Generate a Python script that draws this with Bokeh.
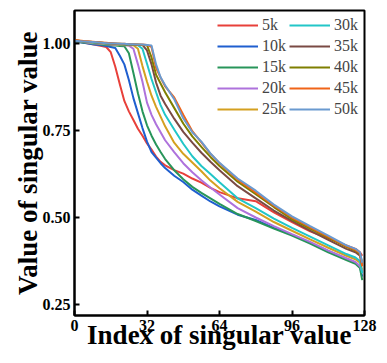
from bokeh.plotting import figure
from bokeh.models import Range1d, FixedTicker, Legend, LegendItem, NumeralTickFormatter
from bokeh.embed import file_html
from bokeh.resources import INLINE

# Index positions at which values were read
idx = [0, 4, 8, 12, 14, 16, 18, 20, 22, 24, 26, 28, 30, 32, 34, 36, 38, 40, 44, 48,
       52, 56, 60, 64, 72, 80, 88, 96, 104, 112, 120, 124, 126, 127]

v5k = [1.008, 1.003, 0.998, 0.993, 0.990, 0.975, 0.933, 0.883, 0.835, 0.805, 0.780, 0.755, 0.735, 0.713, 0.695,
       0.675, 0.660, 0.650, 0.636, 0.626, 0.612, 0.600, 0.585, 0.573, 0.555, 0.547, 0.515, 0.487, 0.460, 0.440,
       0.420, 0.410, 0.400, 0.390]
v10k = [1.006, 1.002, 0.998, 0.995, 0.993, 0.990, 0.987, 0.965, 0.940, 0.895, 0.843, 0.800, 0.757, 0.718, 0.688,
        0.672, 0.656, 0.642, 0.620, 0.602, 0.580, 0.563, 0.546, 0.532, 0.508, 0.493, 0.470, 0.450, 0.428, 0.404,
        0.382, 0.370, 0.360, 0.330]
v15k = [1.006, 1.003, 1.000, 0.997, 0.996, 0.995, 0.994, 0.993, 0.992, 0.972, 0.915, 0.857, 0.805, 0.765, 0.735,
        0.710, 0.688, 0.668, 0.636, 0.610, 0.588, 0.571, 0.555, 0.539, 0.510, 0.490, 0.468, 0.448, 0.425, 0.400,
        0.378, 0.367, 0.355, 0.320]
v20k = [1.007, 1.004, 1.001, 0.999, 0.998, 0.997, 0.996, 0.996, 0.995, 0.994, 0.985, 0.940, 0.890, 0.830, 0.795,
        0.768, 0.745, 0.722, 0.688, 0.656, 0.630, 0.607, 0.586, 0.566, 0.527, 0.500, 0.475, 0.452, 0.430, 0.405,
        0.383, 0.372, 0.360, 0.345]
v25k = [1.008, 1.005, 1.002, 1.000, 0.999, 0.998, 0.997, 0.996, 0.996, 0.995, 0.995, 0.985, 0.935, 0.890, 0.850,
        0.818, 0.790, 0.762, 0.715, 0.683, 0.658, 0.633, 0.606, 0.584, 0.545, 0.517, 0.487, 0.462, 0.437, 0.413,
        0.390, 0.380, 0.370, 0.350]
v30k = [1.008, 1.005, 1.003, 1.001, 1.000, 0.999, 0.998, 0.997, 0.997, 0.996, 0.996, 0.995, 0.985, 0.942, 0.898,
        0.860, 0.823, 0.795, 0.753, 0.712, 0.676, 0.648, 0.625, 0.601, 0.555, 0.527, 0.497, 0.470, 0.445, 0.420,
        0.395, 0.385, 0.375, 0.340]
v35k = [1.009, 1.006, 1.004, 1.002, 1.001, 1.000, 0.999, 0.998, 0.998, 0.997, 0.997, 0.996, 0.996, 0.980, 0.940,
        0.888, 0.850, 0.826, 0.784, 0.746, 0.715, 0.686, 0.660, 0.636, 0.590, 0.555, 0.520, 0.490, 0.462, 0.436,
        0.410, 0.400, 0.390, 0.360]
v40k = [1.009, 1.006, 1.004, 1.002, 1.001, 1.000, 0.999, 0.999, 0.998, 0.998, 0.997, 0.997, 0.996, 0.995, 0.960,
        0.910, 0.885, 0.860, 0.815, 0.770, 0.733, 0.703, 0.674, 0.648, 0.603, 0.567, 0.530, 0.495, 0.468, 0.442,
        0.416, 0.405, 0.395, 0.370]
v45k = [1.010, 1.007, 1.005, 1.003, 1.002, 1.001, 1.000, 0.999, 0.999, 0.998, 0.998, 0.997, 0.997, 0.996, 0.990,
        0.930, 0.902, 0.877, 0.845, 0.795, 0.748, 0.716, 0.683, 0.656, 0.609, 0.572, 0.534, 0.500, 0.472, 0.445,
        0.418, 0.407, 0.398, 0.360]
v50k = [1.008, 1.006, 1.004, 1.002, 1.001, 1.000, 1.000, 0.999, 0.999, 0.998, 0.998, 0.997, 0.997, 0.996, 0.994,
        0.940, 0.903, 0.880, 0.840, 0.785, 0.745, 0.718, 0.684, 0.657, 0.612, 0.577, 0.537, 0.503, 0.475, 0.448,
        0.420, 0.410, 0.400, 0.370]

labels = ["5k", "10k", "15k", "20k", "25k", "30k", "35k", "40k", "45k", "50k"]
series = [v5k, v10k, v15k, v20k, v25k, v30k, v35k, v40k, v45k, v50k]
colors = ["#E8403A", "#1F5FCF", "#28955A", "#AE72DC", "#D4A020",
          "#22C6C8", "#7A4A44", "#7F7F00", "#F06418", "#6A9AD0"]

x_ticks = [0, 32, 64, 96, 128]
y_ticks = [0.25, 0.50, 0.75, 1.00]

SERIF = "Liberation Serif"

p = figure(width=379, height=358, output_backend="svg", toolbar_location=None,
           x_range=Range1d(0, 128), y_range=Range1d(0.2184, 1.0948),
           min_border_left=74, min_border_top=10, min_border_right=15, min_border_bottom=43)

items = []
for lab, vals, col in zip(labels, series, colors):
    r = p.line(idx, vals, line_color=col, line_width=2)
    items.append(LegendItem(label=lab, renderers=[r]))

p.xgrid.visible = False
p.ygrid.visible = False
p.outline_line_color = "black"
p.outline_line_width = 2
p.outline_line_alpha = 1

for ax in (p.xaxis[0], p.yaxis[0]):
    ax.axis_line_width = 2
    ax.major_tick_line_width = 2
    ax.major_tick_in = 5
    ax.major_tick_out = 0
    ax.minor_tick_line_color = None
    ax.major_label_text_font = SERIF
    ax.major_label_text_font_style = "bold"
    ax.major_label_text_font_size = "16px"
    ax.major_label_text_color = "black"
    ax.axis_label_text_font = SERIF
    ax.axis_label_text_font_style = "bold"
    ax.axis_label_text_font_size = "27px"
    ax.axis_label_text_color = "black"
    ax.major_label_standoff = 4

p.xaxis.ticker = FixedTicker(ticks=x_ticks)
p.yaxis.ticker = FixedTicker(ticks=y_ticks)
p.yaxis.formatter = NumeralTickFormatter(format="0.00")
p.xaxis.axis_label = "Index of singular value"
p.yaxis.axis_label = "Value of singular value"
p.xaxis.axis_label_standoff = -14
p.yaxis.axis_label_standoff = -3

legend = Legend(items=items, location="top_right", ncols=2,
                border_line_alpha=0, background_fill_alpha=0,
                label_text_font=SERIF, label_text_font_size="16px",
                glyph_width=41, glyph_height=14, label_height=14, spacing=3,
                padding=6, margin=0, label_standoff=4)
p.add_layout(legend)

open("out.html", "w").write(file_html(p, INLINE))
